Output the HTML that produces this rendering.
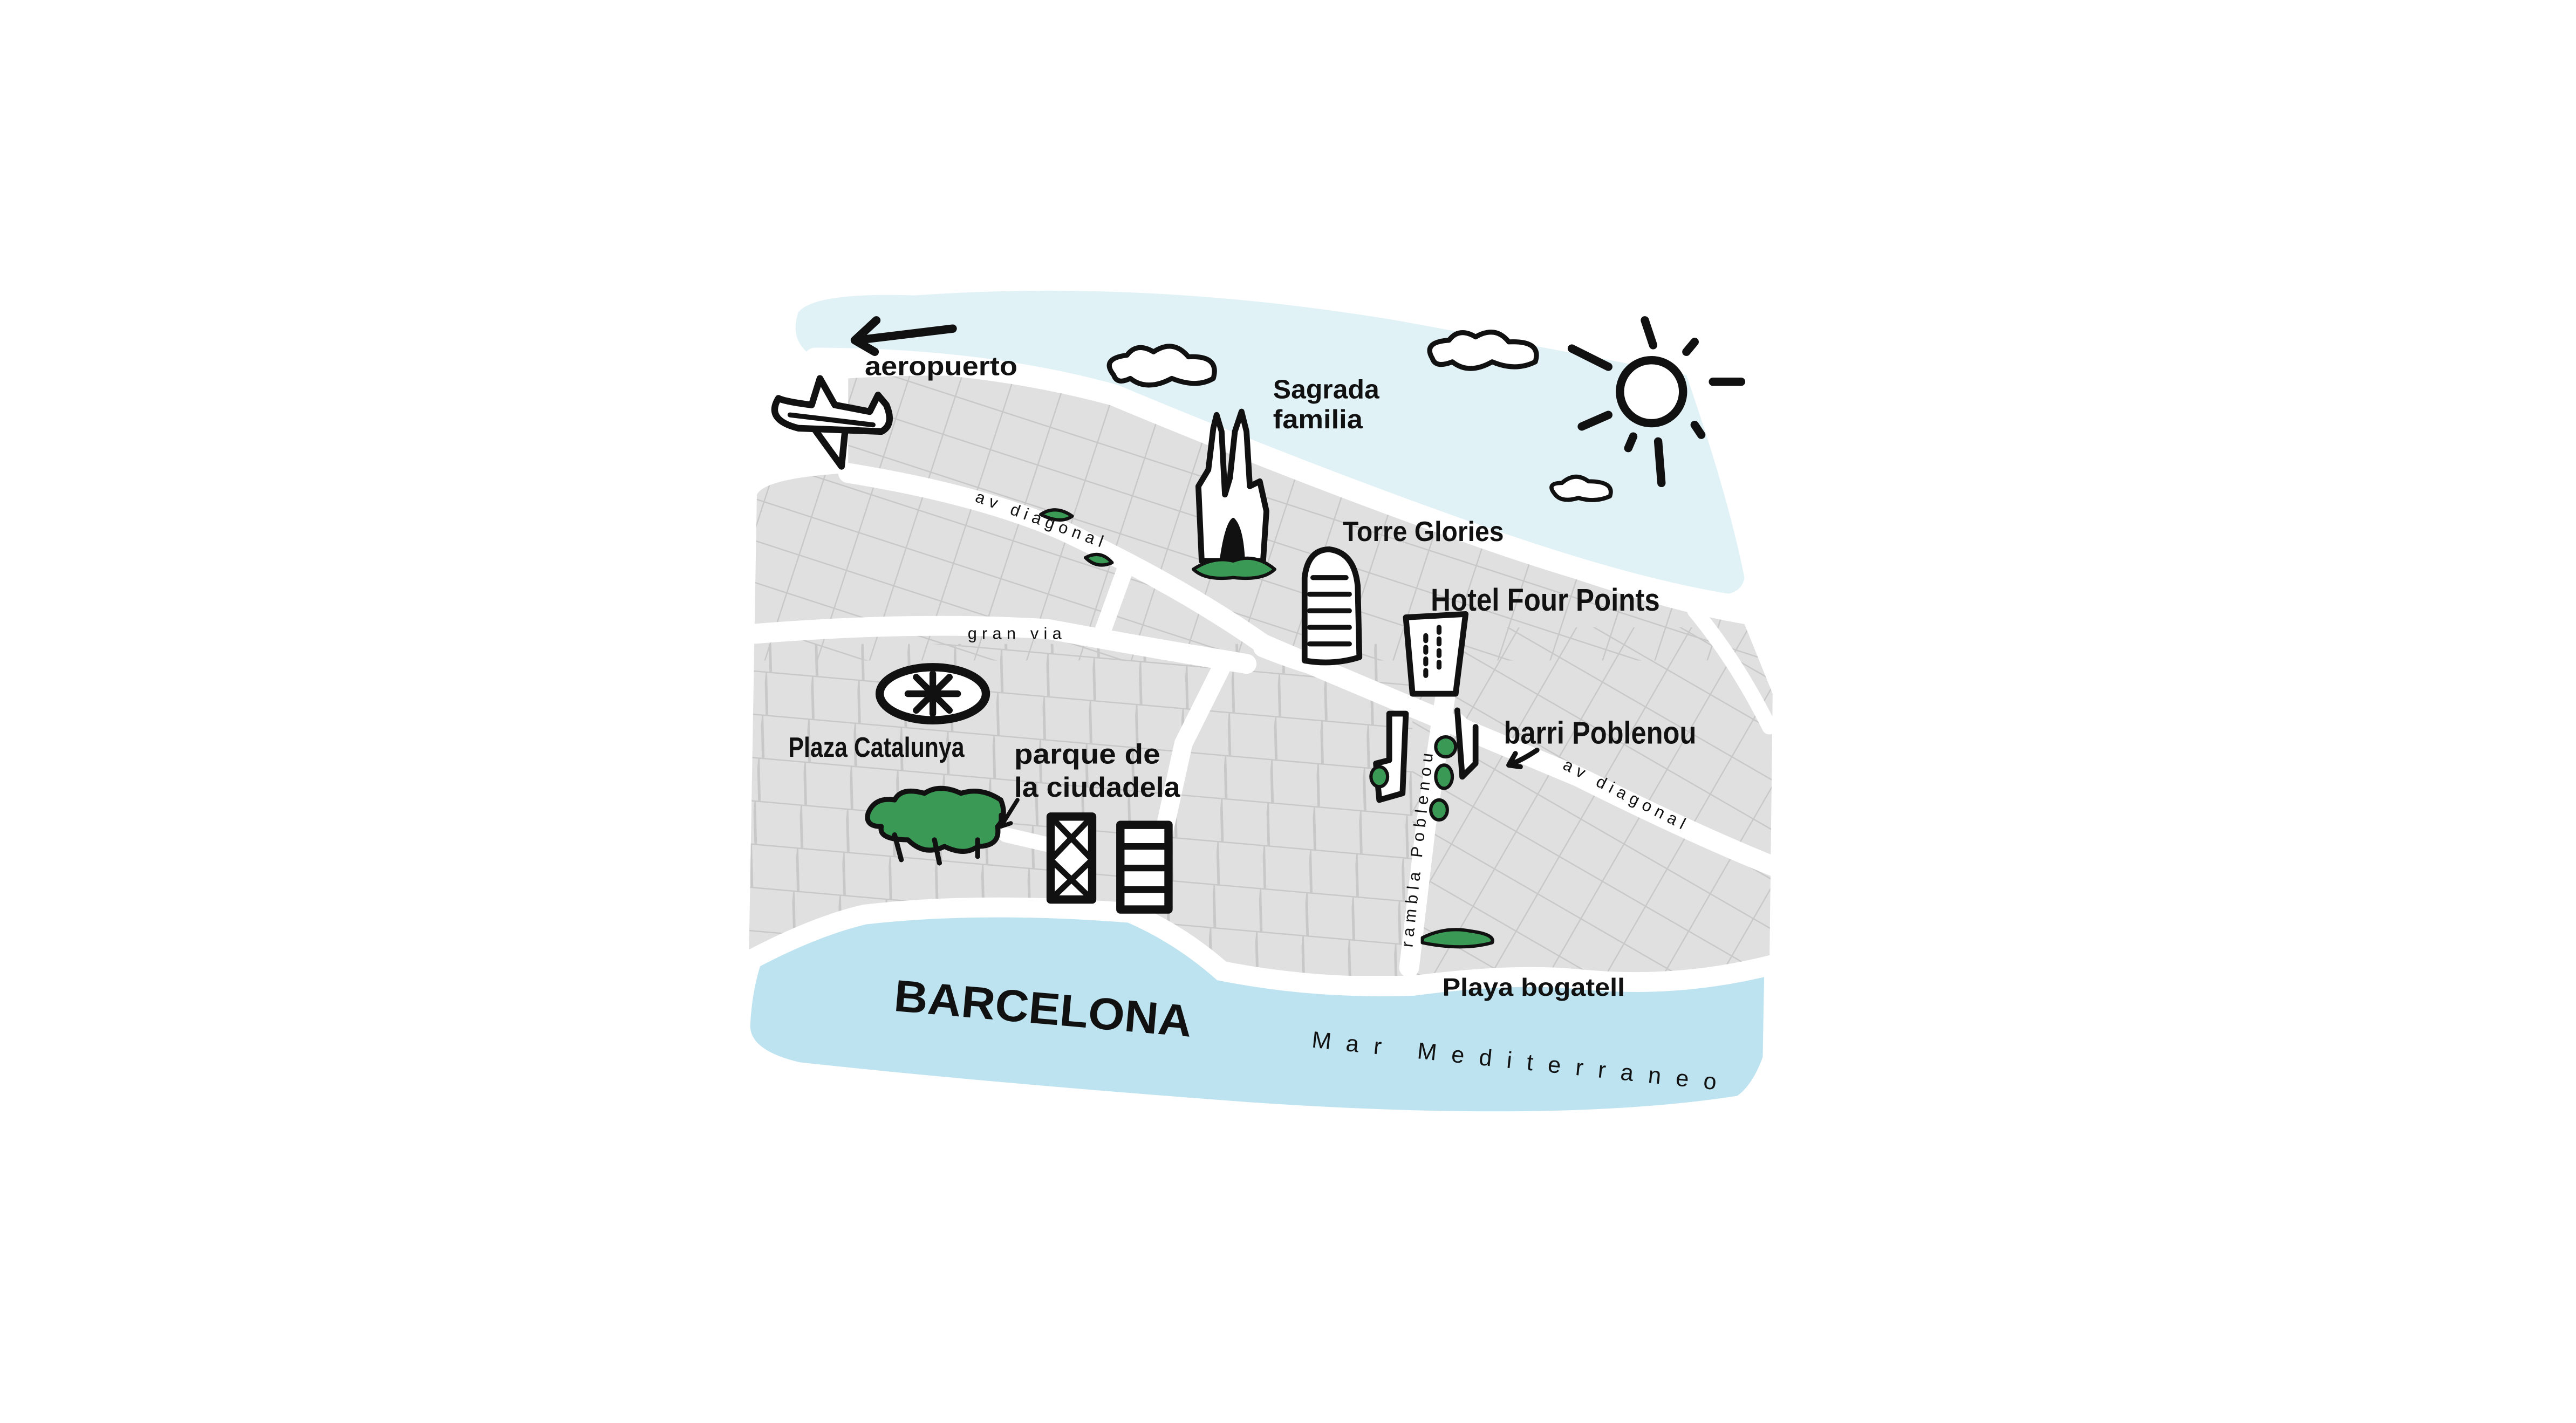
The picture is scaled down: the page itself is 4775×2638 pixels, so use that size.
<!DOCTYPE html>
<html><head><meta charset="utf-8"><style>
html,body{margin:0;padding:0;background:#fff;width:4775px;height:2638px;overflow:hidden}
svg{display:block}
text{font-family:"Liberation Sans Narrow","Liberation Sans",sans-serif;fill:#111}
</style></head><body>
<svg width="4775" height="2638" viewBox="0 0 1552 857.4" preserveAspectRatio="none" xmlns="http://www.w3.org/2000/svg">
<defs>
<pattern id="g1" width="30" height="24" patternUnits="userSpaceOnUse" patternTransform="rotate(18)">
<path d="M0 0H30M0 0V24" stroke="#c8c8c8" stroke-width="1.6" fill="none"/></pattern>
<pattern id="g2" width="28" height="26" patternUnits="userSpaceOnUse" patternTransform="rotate(5)">
<path d="M0 0H28M0 0L3 26" stroke="#c8c8c8" stroke-width="1.6" fill="none"/></pattern>
<pattern id="g3" width="30" height="26" patternUnits="userSpaceOnUse" patternTransform="rotate(30)">
<path d="M0 0H30M0 0V26" stroke="#c8c8c8" stroke-width="1.6" fill="none"/></pattern>
<clipPath id="land"><path d="M465 300 Q470 290 520 287 L520 230 Q600 225 660 235 Q800 290 900 330 Q1000 368 1060 378 L1077 420 L1075 590 L460 590 Z"/></clipPath>
</defs>
<g transform="translate(-9,-2)">
<path d="M490 190 Q500 178 560 180 Q700 170 850 195 Q960 215 1025 228 Q1050 300 1060 350 Q1058 362 1040 360 Q900 345 800 300 Q680 245 600 228 Q520 215 495 214 Q485 205 490 190Z" fill="#e1f2f7"/>
<g clip-path="url(#land)">
<rect x="440" y="200" width="660" height="420" fill="#e0e0e0"/>
<rect x="440" y="200" width="660" height="200" fill="url(#g1)"/>
<rect x="440" y="390" width="420" height="230" fill="url(#g2)"/>
<rect x="860" y="380" width="240" height="240" fill="url(#g3)"/>
</g>
<g fill="none" stroke="#fff" stroke-linecap="round">
<path d="M500 218 Q600 218 680 240 Q800 290 900 325 Q1000 360 1062 368" stroke-width="13"/>
<path d="M520 287 Q600 300 650 322 Q720 355 770 390 Q840 420 960 470 Q1030 505 1080 525" stroke-width="12"/>
<path d="M462 384 Q560 376 640 381 Q700 392 760 402" stroke-width="12"/>
<path d="M688 342 L672 386" stroke-width="10"/>
<path d="M745 404 L722 450 L700 550" stroke-width="11"/>
<path d="M880 420 L868 500 L858 585" stroke-width="12"/>
<path d="M615 505 L645 512" stroke-width="9"/>
<path d="M1030 370 Q1055 400 1075 440" stroke-width="9"/>
<path d="M770 392 Q790 400 805 404" stroke-width="12"/>
</g>
<path d="M462 580 Q500 560 530 553 Q600 545 690 552 Q720 565 745 587 Q800 598 860 596 Q920 588 960 592 Q1020 598 1078 583 L1077 640 Q1070 660 1058 668 Q950 685 760 672 Q600 660 490 648 Q455 640 455 620 Q456 598 462 580Z" fill="#bde3f0" stroke="#fff" stroke-width="12"/>
<g stroke="#111" stroke-linecap="round" stroke-linejoin="round" fill="none">
<path d="M583 200 L525 207 M537 195 L524 207 L536 214" stroke-width="5"/>
<path d="M478 242 Q470 255 490 260 L540 262 Q548 258 543 246 L538 240 L533 250 L512 246 L503 230 L498 246 Q482 244 478 242Z M500 261 L516 283 L518 263" stroke-width="4" fill="#fff"/>
<path d="M485 252 L535 258" stroke-width="3"/>
<path d="M680 228 Q672 218 688 216 Q694 208 704 214 Q716 206 725 217 Q744 216 740 230 Q730 236 715 230 Q700 238 690 230 Q682 234 680 228Z" stroke-width="3" fill="#fff"/>
<path d="M872 218 Q866 208 882 207 Q888 199 898 205 Q910 198 918 208 Q938 207 934 220 Q922 226 908 220 Q894 228 884 220 Q874 224 872 218Z" stroke-width="3" fill="#fff"/>
<path d="M946 300 Q940 293 950 293 Q958 286 966 292 Q982 292 979 301 Q970 305 960 302 Q950 305 946 300Z" stroke-width="2.5" fill="#fff"/>
<circle cx="1004" cy="238" r="19" stroke-width="5" fill="#fff"/>
<path d="M1000 195 L1005 210 M956 212 L978 223 M962 259 L978 252 M1008 268 L1010 293 M1041 232 L1058 232 M1025 214 L1030 208 M1030 258 L1034 264 M993 265 L990 272" stroke-width="5"/>
<path d="M733 340 L731 295 L737 285 L740 260 L742 252 L745 262 L747 300 L750 290 L753 262 L757 250 L760 262 L762 295 L768 292 L772 310 L770 340Z" stroke-width="3.5" fill="#fff"/>
<path d="M745 338 Q748 318 752 315 Q757 320 758 338Z" fill="#111" stroke-width="2"/>
<path d="M728 345 Q740 337 752 340 Q765 335 777 345 Q770 352 752 350 Q735 352 728 345Z" fill="#3a9a55" stroke-width="2"/>
<path d="M795 400 L795 350 Q797 333 810 333 Q825 335 827 355 L828 398 Q812 403 795 400Z" stroke-width="3.5" fill="#fff"/>
<path d="M800 350H820M798 360H822M798 370H822M798 380H822M798 390H822" stroke-width="3"/>
<path d="M856 374 L892 372 L886 420 L860 420Z" stroke-width="3.5" fill="#fff"/>
<path d="M868 385V410M876 380V405" stroke-width="3" stroke-dasharray="3 4"/>
<ellipse cx="571" cy="420" rx="32" ry="16" stroke-width="5" fill="#fff"/>
<path d="M556 420 L586 420 M561 410 L581 430 M581 410 L561 430 M571 408 L571 432" stroke-width="4"/>
<g fill="#3a9a55" stroke-width="3">
<path d="M532 492 Q536 482 548 484 Q552 476 566 480 Q575 474 588 480 Q600 476 612 484 Q616 494 610 500 Q612 512 598 512 Q590 518 578 512 Q566 518 556 508 Q538 508 540 500 Q530 500 532 492Z"/>
<path d="M548 505 L552 520 M572 508 L575 522 M598 508 L598 518"/>
</g>
<path d="M622 484 L612 500 M612 500 L612 493 M612 500 L618 498" stroke-width="2.5"/>
<rect x="642" y="494" width="25" height="50" stroke-width="5" fill="#fff"/>
<path d="M642 494 L667 520 L642 544 M667 494 L642 520 L667 544" stroke-width="3.5"/>
<rect x="684" y="499" width="29" height="51" stroke-width="5" fill="#fff"/>
<path d="M684 512H713M684 525H713M684 538H713" stroke-width="4"/>
<path d="M846 432 L856 432 L854 480 L840 484 L838 462 L846 460Z M887 430 L890 470 L898 462 L898 440" stroke-width="3.5" fill="#fff"/>
<g fill="#3a9a55" stroke-width="2">
<ellipse cx="880" cy="452" rx="6" ry="6"/><ellipse cx="879" cy="470" rx="5" ry="7"/><ellipse cx="876" cy="490" rx="5" ry="6"/><ellipse cx="840" cy="470" rx="5" ry="6"/>
<path d="M636 312 Q645 306 655 313 Q648 318 636 312Z"/><path d="M663 338 Q672 333 679 341 Q670 345 663 338Z"/>
<path d="M866 567 Q880 560 895 563 Q910 565 908 570 Q890 575 866 570Z"/>
</g>
<path d="M935 454 Q926 460 918 463 M918 463 L922 456 M918 463 L925 464" stroke-width="3"/>
</g>
</g>
<g transform="translate(-7,-1)">
<text x="528" y="227" font-size="16" font-weight="bold" textLength="92" lengthAdjust="spacingAndGlyphs">aeropuerto</text>
<text x="774" y="241" font-size="16" font-weight="bold" textLength="64" lengthAdjust="spacingAndGlyphs">Sagrada</text>
<text x="774" y="259" font-size="16" font-weight="bold" textLength="54" lengthAdjust="spacingAndGlyphs">familia</text>
<text x="816" y="327" font-size="17" font-weight="bold" textLength="97" lengthAdjust="spacingAndGlyphs">Torre Glories</text>
<text x="869" y="369" font-size="19" font-weight="bold" textLength="138" lengthAdjust="spacingAndGlyphs">Hotel Four Points</text>
<text x="913" y="449" font-size="19" font-weight="bold" textLength="116" lengthAdjust="spacingAndGlyphs">barri Poblenou</text>
<text x="482" y="457" font-size="17" font-weight="bold" textLength="106" lengthAdjust="spacingAndGlyphs">Plaza Catalunya</text>
<text x="618" y="461" font-size="17" font-weight="bold" textLength="88" lengthAdjust="spacingAndGlyphs">parque de</text>
<text x="618" y="481" font-size="17" font-weight="bold" textLength="100" lengthAdjust="spacingAndGlyphs">la ciudadela</text>
<text x="876" y="601" font-size="15" font-weight="bold" textLength="110" lengthAdjust="spacingAndGlyphs">Playa bogatell</text>
<text x="545" y="610" font-size="27" font-weight="bold" textLength="180" lengthAdjust="spacingAndGlyphs" transform="rotate(5 545 610)">BARCELONA</text>
<text x="797" y="632" font-size="14" textLength="245" lengthAdjust="spacing" transform="rotate(6 797 632)">Mar Mediterraneo</text>
<text x="594" y="303" font-size="10" letter-spacing="3" transform="rotate(20 594 303)">av diagonal</text>
<text x="590" y="386" font-size="10" letter-spacing="3">gran via</text>
<text x="948" y="464" font-size="10" letter-spacing="3" transform="rotate(27 948 464)">av diagonal</text>
<text x="858" y="572" font-size="10" letter-spacing="3" transform="rotate(-84 858 572)">rambla Poblenou</text>
</g>
</svg>
</body></html>
